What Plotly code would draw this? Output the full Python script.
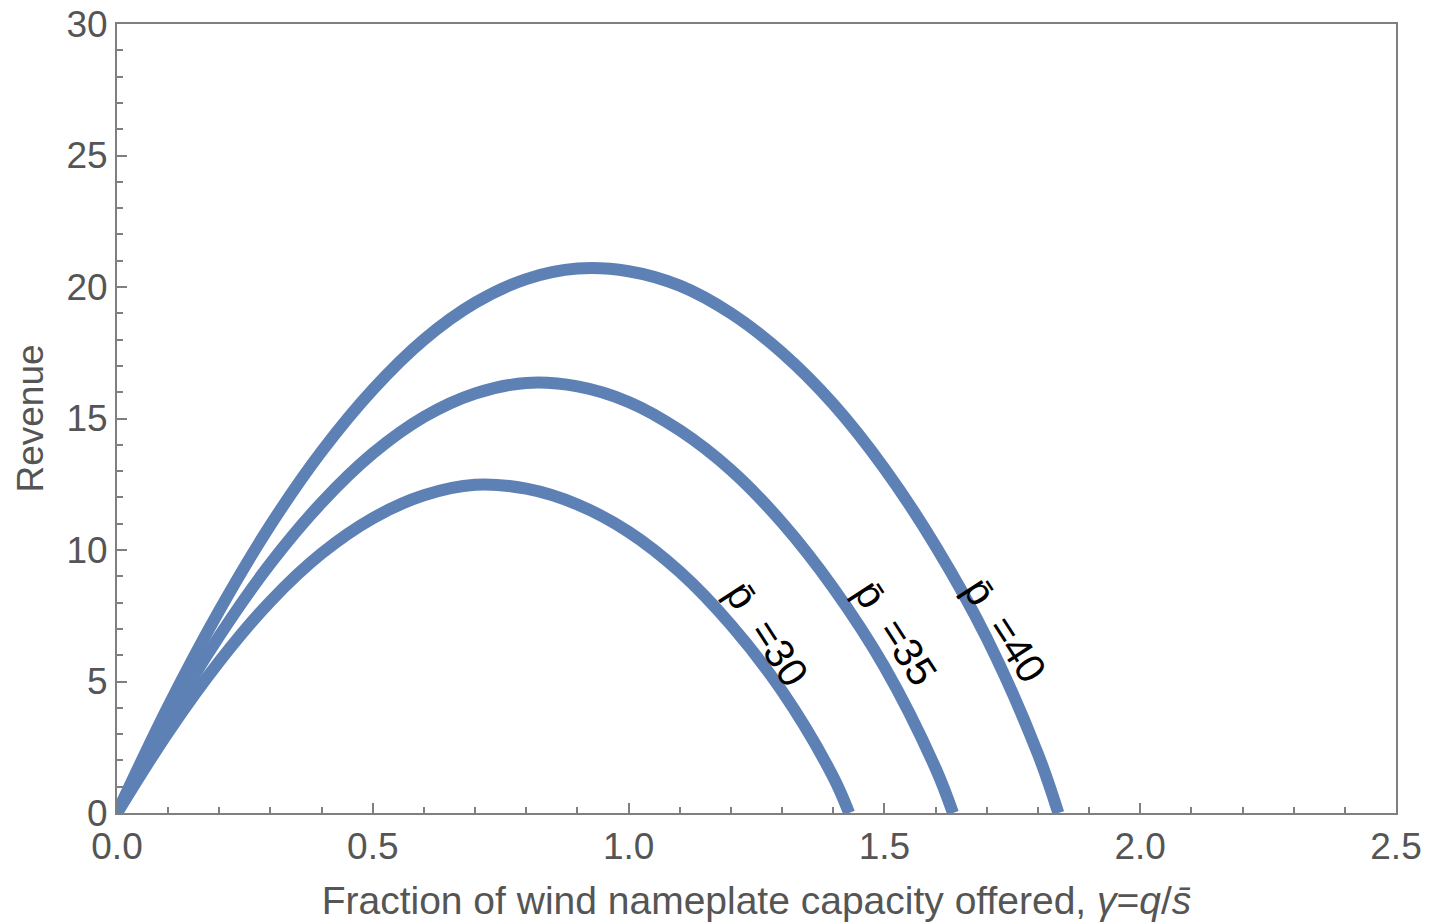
import plotly.graph_objects as go

# Data
gamma_30 = [0, 0.1, 0.2, 0.3, 0.4, 0.5, 0.6, 0.7, 0.8, 0.9, 1.0, 1.1, 1.2, 1.3, 1.4, 1.431]
rev_30 = [0, 3.07, 5.76, 8.05, 9.87, 11.21, 12.08, 12.48, 12.33, 11.73, 10.69, 9.17, 7.15, 4.63, 1.37, 0]

gamma_35 = [0, 0.1, 0.2, 0.3, 0.4, 0.5, 0.6, 0.7, 0.8, 0.9, 1.0, 1.1, 1.2, 1.3, 1.4, 1.5, 1.6, 1.634]
rev_35 = [0, 3.56, 6.73, 9.49, 11.8, 13.67, 15.06, 15.95, 16.35, 16.22, 15.63, 14.55, 13.04, 11.04, 8.56, 5.56, 1.7, 0]

gamma_40 = [0, 0.1, 0.2, 0.3, 0.4, 0.5, 0.6, 0.7, 0.8, 0.9, 1.0, 1.1, 1.2, 1.3, 1.4, 1.5, 1.6, 1.7, 1.8, 1.84]
rev_40 = [0, 4.05, 7.7, 10.95, 13.75, 16.1, 18.0, 19.4, 20.3, 20.7, 20.6, 20.05, 19.0, 17.5, 15.55, 13.1, 10.15, 6.65, 2.25, 0]

labels = ["p\u0304\u00a0\u00a0=30", "p\u0304\u00a0\u00a0=35", "p\u0304\u00a0\u00a0=40"]
label_x = [1.27, 1.522, 1.735]
label_y = [6.8, 6.85, 6.95]

x_ticks = [0.0, 0.5, 1.0, 1.5, 2.0, 2.5]
y_ticks = [0, 5, 10, 15, 20, 25, 30]

LINE = "#5E81B5"
AXIS = "#7f7f7f"
TEXT = "#555555"
FONT = "Liberation Sans, Arial, Helvetica, sans-serif"

fig = go.Figure()
for gx, gy in [(gamma_30, rev_30), (gamma_35, rev_35), (gamma_40, rev_40)]:
    fig.add_trace(go.Scatter(x=gx, y=gy, mode="lines",
                             line=dict(color=LINE, width=12, shape="spline", smoothing=1.0),
                             showlegend=False, hoverinfo="skip"))

for t, lx, ly in zip(labels, label_x, label_y):
    fig.add_annotation(x=lx, y=ly, xref="x", yref="y", text=t, showarrow=False,
                       textangle=57, font=dict(family=FONT, size=41, color="black"))

axis_common = dict(
    showgrid=False, zeroline=False, showline=True, linecolor=AXIS, linewidth=2,
    mirror=True, ticks="inside", ticklen=10, tickwidth=2, tickcolor=AXIS,
    tickfont=dict(family=FONT, size=37, color=TEXT), automargin=False,
)

fig.update_layout(
    width=1429, height=924,
    margin=dict(l=117, r=33, t=24, b=111),
    paper_bgcolor="white", plot_bgcolor="white",
    font=dict(family=FONT, color=TEXT),
    xaxis=dict(range=[0, 2.5], tickvals=x_ticks, ticktext=[f"{v:.1f}" for v in x_ticks],
               minor=dict(ticks="inside", ticklen=6, tickwidth=1.5, tickcolor=AXIS, dtick=0.1),
               title=dict(text="Fraction of wind nameplate capacity offered, <i>γ</i>=<i>q</i>/<i>s\u0304</i>",
                          font=dict(family=FONT, size=39, color=TEXT), standoff=20),
               **axis_common),
    yaxis=dict(range=[0, 30], tickvals=y_ticks, ticktext=[str(v) for v in y_ticks],
               minor=dict(ticks="inside", ticklen=6, tickwidth=1.5, tickcolor=AXIS, dtick=1),
               title=dict(text="Revenue", font=dict(family=FONT, size=37, color=TEXT), standoff=11),
               **axis_common),
)

fig.write_html("out.html")
